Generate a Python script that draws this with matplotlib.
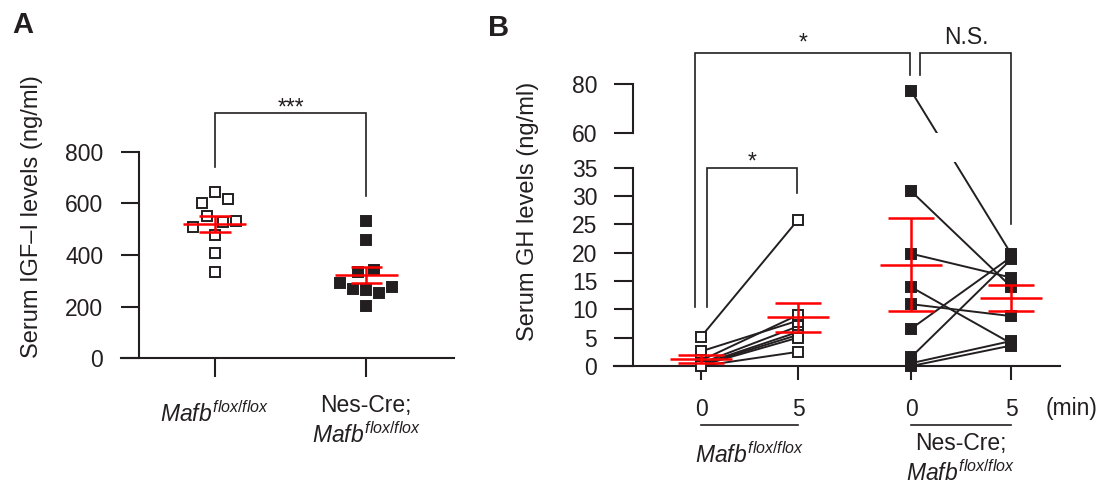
import numpy as np
import matplotlib
matplotlib.use("Agg")
import matplotlib.pyplot as plt
from matplotlib.transforms import blended_transform_factory

plt.rcParams['font.family'] = ['Liberation Sans', 'DejaVu Sans']
plt.rcParams['mathtext.fontset'] = 'custom'
plt.rcParams['mathtext.rm'] = 'Liberation Sans'
plt.rcParams['mathtext.it'] = 'Liberation Sans:italic'

W, H = 1109, 484
K = '#231f20'
RED = '#ff0000'
FS = 16.5
MAFB = r'$\mathit{Mafb}^{\mathit{flox/flox}}$'

# --- panel A: serum IGF-I (ng/ml)
igf_ctrl = [642, 603, 616, 549, 510, 529, 533, 478, 407, 333]
igf_cko = [532, 458, 335, 342, 290, 267, 264, 251, 275, 202]
# horizontal scatter of the dots
igf_ctrl_dx = [0, -0.086, 0.086, -0.053, -0.146, 0.053, 0.139, 0, 0, 0]
igf_cko_dx = [0, 0, -0.053, 0.051, -0.174, -0.086, 0, 0.084, 0.17, 0]
igf_yticks = [0, 200, 400, 600, 800]

# --- panel B: serum GH (ng/ml), paired 0 / 5 min
gh_ctrl_0 = [5.2, 2.6, 1.0, 0.5, 0.3, 0.2, 0.1, 0.0]
gh_ctrl_5 = [25.8, 8.0, 9.0, 7.0, 6.0, 5.5, 5.0, 2.5]
gh_cko_0 = [77.0, 30.8, 19.8, 13.9, 10.9, 6.6, 1.6, 0.5, 0.0]
gh_cko_5 = [19.8, 14.0, 15.6, 4.0, 8.8, 19.2, 18.8, 4.4, 3.6]
gh_time_labels = ['0', '5', '0', '5']
gh_yticks = [0, 5, 10, 15, 20, 25, 30, 35, 60, 80]


def fy(py):
    return 1 - py / H


def mean_sem(v):
    v = np.asarray(v, float)
    return v.mean(), v.std(ddof=1) / np.sqrt(len(v))


def draw_sem(ax, x, vals, half_mean, half_cap):
    m, s = mean_sem(vals)
    kw = dict(color=RED, lw=1.8, zorder=5, clip_on=False)
    ax.hlines(m, x - half_mean, x + half_mean, **kw)
    ax.hlines([m - s, m + s], x - half_cap, x + half_cap, **kw)
    ax.vlines(x, m - s, m + s, **kw)


def bracket(ax, tr, x0, x1, y, y0, y1):
    ax.plot([x0, x0, x1, x1], [fy(y0), fy(y), fy(y), fy(y1)], color=K,
            lw=1.2, transform=tr, clip_on=False, solid_joinstyle='miter')


def style_axis(ax, ylen, xlen, ypad, xpad):
    for s in ['top', 'right']:
        ax.spines[s].set_visible(False)
    for s in ['left', 'bottom']:
        ax.spines[s].set_linewidth(1.5)
        ax.spines[s].set_color(K)
    ax.tick_params(axis='y', length=ylen, width=1.5, pad=ypad, labelsize=FS, colors=K)
    ax.tick_params(axis='x', length=xlen, width=1.5, pad=xpad, labelsize=FS, colors=K)


fig = plt.figure(figsize=(W / 100, H / 100), dpi=100)

# ---------------- panel A
ax_a = fig.add_axes([121 / W, fy(358.3), 333 / W, 258.3 / H])
ax_a.set_xlim(-0.621, 1.580)
ax_a.set_ylim(0, 1000)
style_axis(ax_a, 13, 14, 13, 4)
ax_a.spines['left'].set_position(('data', -0.5))
ax_a.spines['left'].set_bounds(0, 800)
ax_a.set_yticks(igf_yticks)
ax_a.set_xticks([0, 1])
ax_a.set_xticklabels([])

ax_a.plot(np.array(igf_ctrl_dx), igf_ctrl, ls='none', marker='s', ms=7.5,
          mfc='white', mec=K, mew=1.4, clip_on=False, zorder=3)
ax_a.plot(1 + np.array(igf_cko_dx), igf_cko, ls='none', marker='s', ms=7.5,
          mfc=K, mec=K, mew=1.4, clip_on=False, zorder=3)
draw_sem(ax_a, 0, igf_ctrl, 0.208, 0.104)
draw_sem(ax_a, 1, igf_cko, 0.208, 0.104)

ax_a.set_ylabel('Serum IGF\u2013I levels (ng/ml)', fontsize=FS + 0.5, color=K)
ax_a.yaxis.set_label_coords(-0.235, 0.549)

tr_a = blended_transform_factory(ax_a.transData, fig.transFigure)
bracket(ax_a, tr_a, 0, 1, 113.3, 167.3, 196)
ax_a.text(0.5, fy(114.5), '***', ha='center', va='baseline', fontsize=FS,
          color=K, transform=tr_a)
ax_a.text(0, fy(421.7), MAFB, ha='center', va='baseline', fontsize=FS,
          color=K, transform=tr_a)
ax_a.text(1, fy(411.7), 'Nes-Cre;', ha='center', va='baseline', fontsize=FS,
          color=K, transform=tr_a)
ax_a.text(1, fy(443.3), MAFB, ha='center', va='baseline', fontsize=FS,
          color=K, transform=tr_a)

# ---------------- panel B (broken y axis through a piecewise scale)
K1, K2, T60 = 0.2455, 0.4294, 41.136


def fwd(y):
    y = np.asarray(y, float)
    return np.where(y <= 35, y, np.where(y <= 60, 35 + (y - 35) * K1,
                                         T60 + (y - 60) * K2))


def inv(t):
    t = np.asarray(t, float)
    return np.where(t <= 35, t, np.where(t <= T60, 35 + (t - 35) / K1,
                                         60 + (t - T60) / K2))


gh_x = [0, 1, 2.17, 3.2]
spine_x = -0.709

ax_b = fig.add_axes([614 / W, fy(366), 446 / W, 336 / H])
ax_b.set_yscale('function', functions=(fwd, inv))
ax_b.set_xlim(-0.902, 3.706)
ax_b.set_ylim(0, 102.2)
style_axis(ax_b, 13.5, 10, 12, 13)
ax_b.spines['left'].set_position(('data', spine_x))
ax_b.spines['left'].set_bounds(0, 35)
ax_b.plot([spine_x, spine_x], [60, 80], color=K, lw=1.5, clip_on=False)
ax_b.set_yticks(gh_yticks)
ax_b.set_yticklabels([str(v) for v in gh_yticks])
ax_b.yaxis.set_minor_locator(matplotlib.ticker.NullLocator())
ax_b.set_xticks(gh_x)
ax_b.set_xticklabels(gh_time_labels)

pairs = [(gh_x[0], gh_x[1], gh_ctrl_0, gh_ctrl_5, 'white'),
         (gh_x[2], gh_x[3], gh_cko_0, gh_cko_5, K)]
for x0, x1, v0, v1, face in pairs:
    n = len(v0)
    ax_b.plot(np.vstack([np.full(n, x0), np.full(n, x1)]),
              np.vstack([v0, v1]), color=K, lw=1.4, zorder=2)
    for x, v in [(x0, v0), (x1, v1)]:
        ax_b.plot(np.full(n, x), v, ls='none', marker='s', ms=7.5, mfc=face,
                  mec=K, mew=1.4, clip_on=False, zorder=3)
    draw_sem(ax_b, x0, v0, 0.32, 0.238)
    draw_sem(ax_b, x1, v1, 0.32, 0.238)

# gap of the long line where the axis is broken
ax_b.fill_between([2.3, 3.1], 39, 60, color='white', lw=0, zorder=2.5)

ax_b.set_ylabel('Serum GH levels (ng/ml)', fontsize=FS + 0.5, color=K)
ax_b.yaxis.set_label_coords(-0.1675, 0.46)

tr_b = blended_transform_factory(ax_b.transData, fig.transFigure)
bracket(ax_b, tr_b, -0.065, 2.153, 53.1, 306.7, 75.4)
bracket(ax_b, tr_b, 2.259, 3.2, 53.1, 75.4, 224)
bracket(ax_b, tr_b, 0.056, 0.986, 167.7, 306.7, 193.3)
ax_b.text(1.05, fy(49.6), '*', ha='center', va='baseline', fontsize=FS,
          color=K, transform=tr_b)
ax_b.text(2.735, fy(43.8), 'N.S.', ha='center', va='baseline', fontsize=FS,
          color=K, transform=tr_b)
ax_b.text(0.52, fy(168.7), '*', ha='center', va='baseline', fontsize=FS,
          color=K, transform=tr_b)

ax_b.text(3.83, fy(415.5), '(min)', ha='center', va='baseline', fontsize=FS,
          color=K, transform=tr_b)
for xa, xb in [(gh_x[0], gh_x[1]), (gh_x[2], gh_x[3])]:
    ax_b.plot([xa, xb], [fy(425), fy(425)], color=K, lw=1.2,
              transform=tr_b, clip_on=False)
mid_ctrl = (gh_x[0] + gh_x[1]) / 2
mid_cko = (gh_x[2] + gh_x[3]) / 2
ax_b.text(mid_ctrl, fy(462.7), MAFB, ha='center', va='baseline', fontsize=FS,
          color=K, transform=tr_b)
ax_b.text(mid_cko, fy(450.4), 'Nes-Cre;', ha='center', va='baseline',
          fontsize=FS, color=K, transform=tr_b)
ax_b.text(mid_cko, fy(481), MAFB, ha='center', va='baseline', fontsize=FS,
          color=K, transform=tr_b)

fig.text(22.5 / W, fy(33.3), 'A', ha='center', va='baseline', fontsize=21,
         fontweight='bold', color=K)
fig.text(498.7 / W, fy(36), 'B', ha='center', va='baseline', fontsize=21,
         fontweight='bold', color=K)

fig.savefig('out.png', dpi=100)
